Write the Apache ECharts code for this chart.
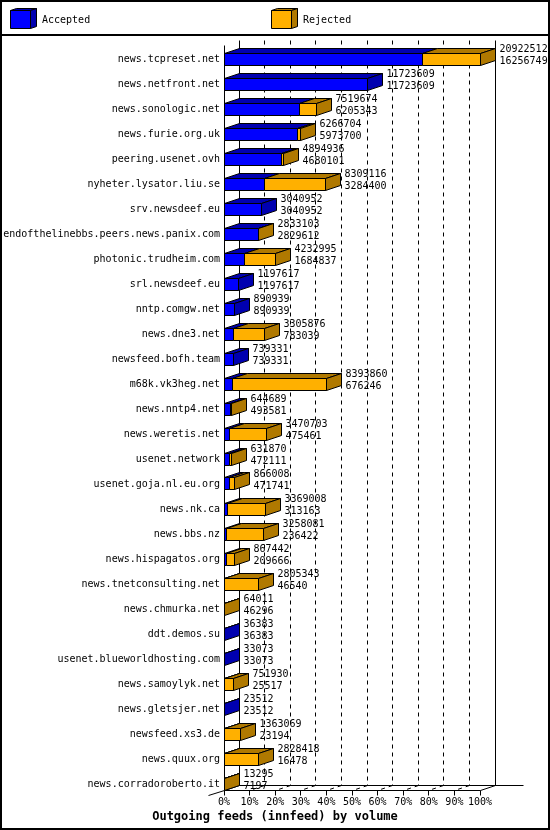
<!DOCTYPE html>
<html><head><meta charset="utf-8">
<script src="https://cdn.jsdelivr.net/npm/echarts@6/dist/echarts.min.js"></script>
<style>html,body{margin:0;padding:0;background:#fff}#chart{width:550px;height:830px}</style>
</head><body><div id="chart"></div>
<script>
const categories = [
  'news.tcpreset.net','news.netfront.net','news.sonologic.net','news.furie.org.uk','peering.usenet.ovh',
  'nyheter.lysator.liu.se','srv.newsdeef.eu','endofthelinebbs.peers.news.panix.com','photonic.trudheim.com','srl.newsdeef.eu',
  'nntp.comgw.net','news.dne3.net','newsfeed.bofh.team','m68k.vk3heg.net','news.nntp4.net',
  'news.weretis.net','usenet.network','usenet.goja.nl.eu.org','news.nk.ca','news.bbs.nz',
  'news.hispagatos.org','news.tnetconsulting.net','news.chmurka.net','ddt.demos.su','usenet.blueworldhosting.com',
  'news.samoylyk.net','news.gletsjer.net','newsfeed.xs3.de','news.quux.org','news.corradoroberto.it'
];
const totalVolume = [
  20922512,11723609,7519674,6266704,4894936,
  8309116,3040952,2833103,4232995,1197617,
  890939,3305876,739331,8393860,644689,
  3470703,631870,866008,3369008,3258081,
  867442,2805343,64011,36383,33073,
  751930,23512,1363069,2828418,13295
];
const acceptedVolume = [
  16256749,11723609,6205343,5973700,4680101,
  3284400,3040952,2829612,1684837,1197617,
  890939,783039,739331,676246,493581,
  475461,472111,471741,313163,236422,
  209666,46540,46296,36383,33073,
  25517,23512,23194,16478,7197
];
const percentTicks = [0,10,20,30,40,50,60,70,80,90,100];
const seriesNames = ['Accepted','Rejected'];
const titleText = 'Outgoing feeds (innfeed) by volume';

const FONT = '"DejaVu Sans Mono", monospace';
const BLUE = '#0000ff', BLUE_DARK = '#0000b0', ORANGE = '#ffb000', ORANGE_DARK = '#b07900';
const DX = 15, DY = 5, HALF = 6;
const snap = v => Math.round(v - 0.5) + 0.5;

const maxTotal = Math.max(...totalVolume);
const barData = categories.map((c, i) => [acceptedVolume[i] / maxTotal * 100, totalVolume[i] / maxTotal * 100, i, totalVolume[i], acceptedVolume[i]]);

function renderFrame(params, api) {
  const n = categories.length;
  const yFirst = api.coord([0, 0])[1];
  const yLast = api.coord([0, n - 1])[1];
  const topF = snap(yFirst - HALF - 8);
  const floorF = snap(yLast + HALF);
  const x0 = snap(api.coord([0, 0])[0]);
  const x100 = snap(api.coord([100, 0])[0]);
  const children = [];
  const line = (x1, y1, x2, y2, dash) => children.push({
    type: 'line', shape: { x1, y1, x2, y2 },
    style: { stroke: '#000', lineWidth: 1, lineDash: dash || null }
  });
  percentTicks.forEach(p => {
    const xf = snap(api.coord([p, 0])[0]);
    const xb = xf + DX;
    const dashed = p > 0 && p < 100 ? [4, 4] : null;
    line(xb, topF - DY, xb, floorF - DY, dashed);
    line(xb, floorF - DY, xf, floorF, dashed);
    line(xf, floorF, xf, floorF + 5);
  });
  line(x0 + DX, floorF - DY, x100 + DX + 28, floorF - DY);
  line(x0, floorF, x100, floorF);
  line(x0 - 16, floorF + 5, x0, floorF);
  line(x0, topF, x0, floorF);
  return { type: 'group', children };
}

function renderBar(params, api) {
  const acc = api.value(0), tot = api.value(1), i = api.value(2);
  const totLabel = api.value(3), accLabel = api.value(4);
  const p0 = api.coord([0, i]);
  const yc = p0[1];
  const x0 = snap(p0[0]);
  const xa = snap(api.coord([acc, i])[0]);
  const xt = snap(api.coord([tot, i])[0]);
  const yT = snap(yc - HALF), yB = snap(yc + HALF);
  const children = [];
  const face = (pts, fill) => children.push({
    type: 'polygon', shape: { points: pts },
    style: { fill, stroke: '#000', lineWidth: 1 }
  });
  if (acc > 0) {
    face([[x0, yT], [xa, yT], [xa, yB], [x0, yB]], BLUE);
    face([[x0, yT], [xa, yT], [xa + DX, yT - DY], [x0 + DX, yT - DY]], BLUE_DARK);
  }
  if (tot > acc) {
    face([[xa, yT], [xt, yT], [xt, yB], [xa, yB]], ORANGE);
    face([[xa, yT], [xt, yT], [xt + DX, yT - DY], [xa + DX, yT - DY]], ORANGE_DARK);
  }
  face([[xt, yT], [xt + DX, yT - DY], [xt + DX, yB - DY], [xt, yB]], tot > acc ? ORANGE_DARK : BLUE_DARK);
  const tx = xt + DX + 4;
  children.push({ type: 'text', style: { text: String(totLabel), x: tx, y: yc - 9.5, fill: '#000', fontSize: 10, fontFamily: FONT, align: 'left', verticalAlign: 'middle' } });
  children.push({ type: 'text', style: { text: String(accLabel), x: tx, y: yc + 2, fill: '#000', fontSize: 10, fontFamily: FONT, align: 'left', verticalAlign: 'middle' } });
  return { type: 'group', children };
}

function legendCube(x, front, dark, label) {
  const fx = x + 0.5, fy = 10.5, w = 20, h = 18, dx = 6, dy = 2;
  return [
    { type: 'polygon', shape: { points: [[fx, fy], [fx + w, fy], [fx + w + dx, fy - dy], [fx + dx, fy - dy]] }, style: { fill: dark, stroke: '#000', lineWidth: 1 } },
    { type: 'polygon', shape: { points: [[fx + w, fy], [fx + w + dx, fy - dy], [fx + w + dx, fy + h - dy], [fx + w, fy + h]] }, style: { fill: dark, stroke: '#000', lineWidth: 1 } },
    { type: 'rect', shape: { x: fx, y: fy, width: w, height: h }, style: { fill: front, stroke: '#000', lineWidth: 1 } },
    { type: 'text', x: x + 32, y: 20, style: { text: label, fill: '#000', fontSize: 10, fontFamily: FONT, verticalAlign: 'middle' } }
  ];
}

const chart = echarts.init(document.getElementById('chart'), null, { renderer: 'canvas' });
chart.setOption({
  animation: false,
  backgroundColor: '#fff',
  title: {
    text: titleText, left: 'center', top: 811, padding: 0,
    textStyle: { fontFamily: FONT, fontWeight: 'bold', fontSize: 12, color: '#000' }
  },
  grid: { left: 224, right: 70, top: 46.5, bottom: 33.5, containLabel: false },
  xAxis: {
    type: 'value', min: 0, max: 100, interval: 10,
    axisLine: { show: false }, axisTick: { show: false }, splitLine: { show: false },
    axisLabel: { formatter: '{value}%', fontFamily: FONT, fontSize: 10, color: '#000', margin: 1 }
  },
  yAxis: {
    type: 'category', inverse: true, data: categories,
    axisLine: { show: false }, axisTick: { show: false }, splitLine: { show: false },
    axisLabel: { interval: 0, fontFamily: FONT, fontSize: 10, color: '#000', margin: 4 }
  },
  graphic: [
    { type: 'rect', shape: { x: 1, y: 1, width: 548, height: 828 }, style: { fill: null, stroke: '#000', lineWidth: 2 } },
    { type: 'line', shape: { x1: 0, y1: 35, x2: 550, y2: 35 }, style: { stroke: '#000', lineWidth: 2 } },
    ...legendCube(10, BLUE, BLUE_DARK, seriesNames[0]),
    ...legendCube(271, ORANGE, ORANGE_DARK, seriesNames[1])
  ],
  series: [
    { type: 'custom', name: 'frame', z: 1, clip: false, silent: true, data: [[0, 0]], encode: { x: 0, y: 1 }, renderItem: renderFrame },
    { type: 'custom', name: seriesNames.join(' / '), z: 2, clip: false, data: barData, encode: { x: [0, 1], y: 2 }, renderItem: renderBar }
  ]
});
</script>
</body></html>
